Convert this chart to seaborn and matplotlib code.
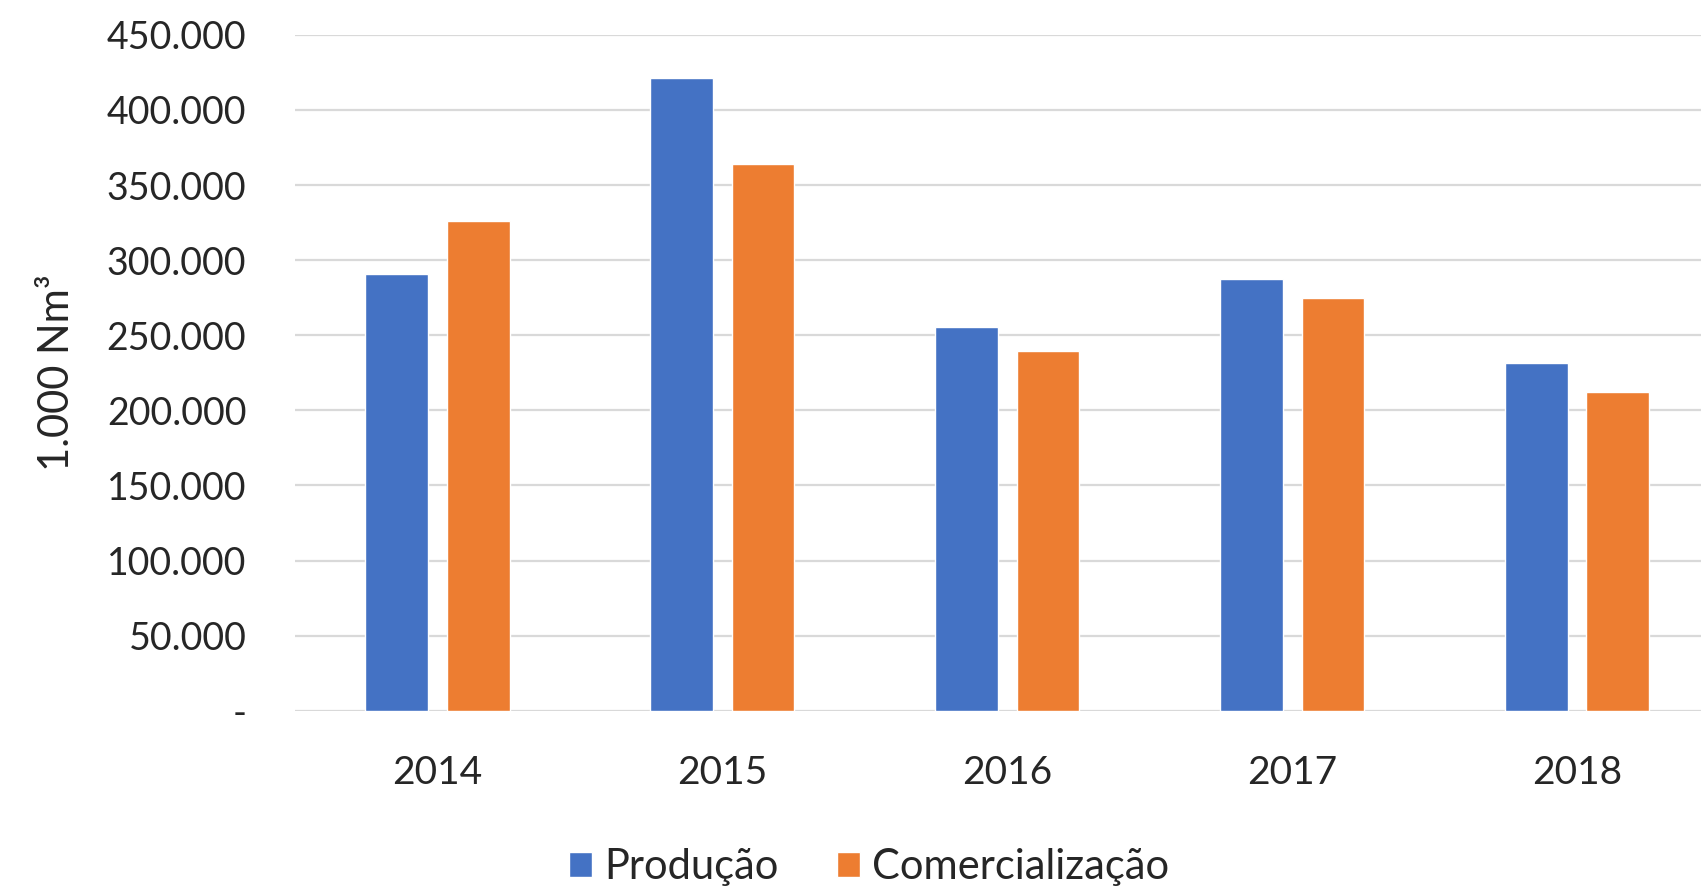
import matplotlib
matplotlib.use("Agg")
import matplotlib.pyplot as plt
import seaborn as sns
import pandas as pd
from matplotlib.ticker import FuncFormatter

years = ["2014", "2015", "2016", "2017", "2018"]
producao = [290700, 421000, 255500, 287300, 231500]
comercializacao = [326100, 363900, 239600, 274600, 212400]
series_names = ["Produção", "Comercialização"]
y_ticks = [0, 50000, 100000, 150000, 200000, 250000, 300000, 350000, 400000, 450000]

df = pd.DataFrame({
    "Ano": years * 2,
    "Valor": producao + comercializacao,
    "Serie": [series_names[0]] * len(years) + [series_names[1]] * len(years),
})

sns.set_theme(style="white")
plt.rcParams["font.family"] = ["Lato", "DejaVu Sans"]

fig = plt.figure(figsize=(17.01, 8.94), dpi=100)
ax = fig.add_axes([0.1734, 0.205, 0.8266, 0.756])

sns.barplot(data=df, x="Ano", y="Valor", hue="Serie", order=years,
            hue_order=series_names, palette=["#4472C4", "#ED7D31"],
            width=0.572, gap=0.23, saturation=1, ax=ax, legend=True)

ax.set_ylim(0, 450000)
ax.set_xlim(-0.5, 4.435)
ax.set_yticks(y_ticks)

def fmt(v, pos):
    if v == 0:
        return "-"
    return f"{int(round(v)):,}".replace(",", ".")

ax.yaxis.set_major_formatter(FuncFormatter(fmt))
ax.grid(axis="y", color="#D9D9D9", linewidth=1.6)
ax.set_axisbelow(True)
for s in ax.spines.values():
    s.set_visible(False)
ax.tick_params(axis="y", labelsize=27, colors="#262626", pad=35, length=0)
ax.tick_params(axis="x", labelsize=28, colors="#262626", pad=32, length=0)
ax.set_xlabel("")
ax.set_ylabel("1.000 Nm³", fontsize=30, color="#262626", labelpad=22)

leg = ax.get_legend()
handles = leg.legend_handles
leg.remove()
fig.legend(handles, series_names, loc="center", bbox_to_anchor=(0.511, 0.03),
           ncol=2, frameon=False, fontsize=30, handlelength=0.55, handleheight=0.55,
           handletextpad=0.3, columnspacing=1.4, labelcolor="#262626")

fig.savefig("out.png", dpi=100)
